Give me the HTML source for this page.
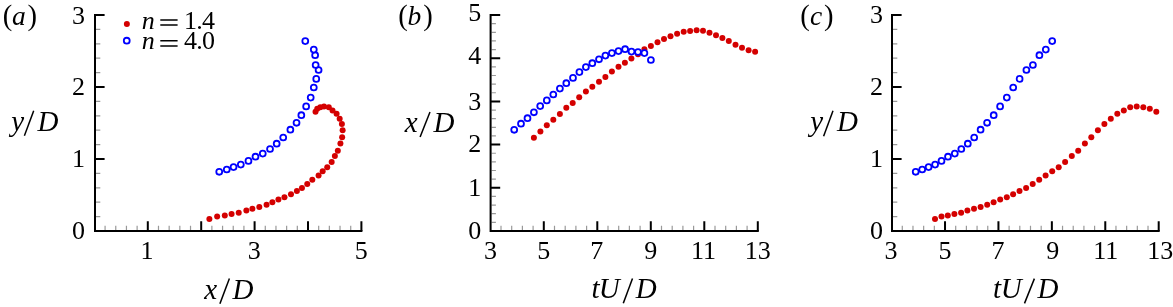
<!DOCTYPE html>
<html><head><meta charset="utf-8"><style>
html,body{margin:0;padding:0;background:#fff;overflow:hidden;}
svg{display:block;will-change:transform;}
text{font-family:"Liberation Serif",serif;fill:#000;}
</style></head><body>
<svg width="1173" height="307" viewBox="0 0 1173 307">
<rect width="1173" height="307" fill="#fff"/>
<path d="M96.00 216.60H100.30M96.00 202.20H100.30M96.00 187.80H100.30M96.00 173.40H100.30M96.00 144.60H100.30M96.00 130.20H100.30M96.00 115.80H100.30M96.00 101.40H100.30M96.00 72.60H100.30M96.00 58.20H100.30M96.00 43.80H100.30M96.00 29.40H100.30M105.08 230.00V225.70M115.76 230.00V225.70M126.44 230.00V225.70M137.12 230.00V225.70M158.48 230.00V225.70M169.16 230.00V225.70M179.84 230.00V225.70M190.52 230.00V225.70M211.88 230.00V225.70M222.56 230.00V225.70M233.24 230.00V225.70M243.92 230.00V225.70M265.28 230.00V225.70M275.96 230.00V225.70M286.64 230.00V225.70M297.32 230.00V225.70M318.68 230.00V225.70M329.36 230.00V225.70M340.04 230.00V225.70M350.72 230.00V225.70" stroke="#000" stroke-width="1.2" stroke-opacity="0.4" fill="none"/>
<path d="M95.00 159.00H104.60M95.00 87.00H104.60M95.00 15.00H104.60M147.80 231.00V221.20M201.20 231.00V221.20M254.60 231.00V221.20M308.00 231.00V221.20M361.40 231.00V221.20" stroke="#000" stroke-width="2" fill="none"/>
<path d="M95.00 14.00V231.00H362.40" stroke="#000" stroke-width="2" fill="none"/>
<path d="M491.60 222.36H495.90M491.60 213.72H495.90M491.60 205.08H495.90M491.60 196.44H495.90M491.60 179.16H495.90M491.60 170.52H495.90M491.60 161.88H495.90M491.60 153.24H495.90M491.60 135.96H495.90M491.60 127.32H495.90M491.60 118.68H495.90M491.60 110.04H495.90M491.60 92.76H495.90M491.60 84.12H495.90M491.60 75.48H495.90M491.60 66.84H495.90M491.60 49.56H495.90M491.60 40.92H495.90M491.60 32.28H495.90M491.60 23.64H495.90M501.00 230.00V225.70M511.70 230.00V225.70M522.40 230.00V225.70M533.10 230.00V225.70M554.50 230.00V225.70M565.20 230.00V225.70M575.90 230.00V225.70M586.60 230.00V225.70M608.00 230.00V225.70M618.70 230.00V225.70M629.40 230.00V225.70M640.10 230.00V225.70M661.50 230.00V225.70M672.20 230.00V225.70M682.90 230.00V225.70M693.60 230.00V225.70M715.00 230.00V225.70M725.70 230.00V225.70M736.40 230.00V225.70M747.10 230.00V225.70" stroke="#000" stroke-width="1.2" stroke-opacity="0.4" fill="none"/>
<path d="M490.60 187.80H500.20M490.60 144.60H500.20M490.60 101.40H500.20M490.60 58.20H500.20M490.60 15.00H500.20M543.80 231.00V221.20M597.30 231.00V221.20M650.80 231.00V221.20M704.30 231.00V221.20M757.80 231.00V221.20" stroke="#000" stroke-width="2" fill="none"/>
<path d="M490.60 14.00V231.00H758.80" stroke="#000" stroke-width="2" fill="none"/>
<path d="M893.00 216.60H897.30M893.00 202.20H897.30M893.00 187.80H897.30M893.00 173.40H897.30M893.00 144.60H897.30M893.00 130.20H897.30M893.00 115.80H897.30M893.00 101.40H897.30M893.00 72.60H897.30M893.00 58.20H897.30M893.00 43.80H897.30M893.00 29.40H897.30M902.28 230.00V225.70M912.97 230.00V225.70M923.65 230.00V225.70M934.34 230.00V225.70M955.70 230.00V225.70M966.39 230.00V225.70M977.07 230.00V225.70M987.76 230.00V225.70M1009.12 230.00V225.70M1019.81 230.00V225.70M1030.49 230.00V225.70M1041.18 230.00V225.70M1062.54 230.00V225.70M1073.23 230.00V225.70M1083.91 230.00V225.70M1094.60 230.00V225.70M1115.96 230.00V225.70M1126.65 230.00V225.70M1137.33 230.00V225.70M1148.02 230.00V225.70" stroke="#000" stroke-width="1.2" stroke-opacity="0.4" fill="none"/>
<path d="M892.00 159.00H901.60M892.00 87.00H901.60M892.00 15.00H901.60M945.02 231.00V221.20M998.44 231.00V221.20M1051.86 231.00V221.20M1105.28 231.00V221.20M1158.70 231.00V221.20" stroke="#000" stroke-width="2" fill="none"/>
<path d="M892.00 14.00V231.00H1159.70" stroke="#000" stroke-width="2" fill="none"/>
<g fill="#d40000"><circle cx="209.38" cy="219.00" r="3.0"/><circle cx="217.15" cy="216.60" r="3.0"/><circle cx="224.79" cy="215.60" r="3.0"/><circle cx="231.57" cy="214.10" r="3.0"/><circle cx="238.72" cy="212.80" r="3.0"/><circle cx="246.36" cy="210.60" r="3.0"/><circle cx="252.40" cy="208.70" r="3.0"/><circle cx="259.30" cy="207.00" r="3.0"/><circle cx="266.58" cy="204.80" r="3.0"/><circle cx="272.37" cy="202.30" r="3.0"/><circle cx="278.41" cy="199.40" r="3.0"/><circle cx="284.45" cy="197.20" r="3.0"/><circle cx="290.98" cy="194.30" r="3.0"/><circle cx="296.90" cy="191.10" r="3.0"/><circle cx="301.95" cy="188.00" r="3.0"/><circle cx="307.25" cy="184.00" r="3.0"/><circle cx="312.31" cy="179.70" r="3.0"/><circle cx="318.59" cy="175.40" r="3.0"/><circle cx="322.66" cy="171.30" r="3.0"/><circle cx="327.22" cy="167.20" r="3.0"/><circle cx="331.66" cy="162.10" r="3.0"/><circle cx="334.86" cy="156.00" r="3.0"/><circle cx="337.82" cy="150.70" r="3.0"/><circle cx="340.41" cy="143.50" r="3.0"/><circle cx="342.14" cy="137.20" r="3.0"/><circle cx="342.63" cy="130.20" r="3.0"/><circle cx="341.89" cy="123.90" r="3.0"/><circle cx="339.67" cy="118.80" r="3.0"/><circle cx="336.59" cy="113.80" r="3.0"/><circle cx="332.52" cy="110.50" r="3.0"/><circle cx="328.82" cy="107.30" r="3.0"/><circle cx="324.02" cy="106.40" r="3.0"/><circle cx="320.32" cy="107.30" r="3.0"/><circle cx="317.24" cy="108.70" r="3.0"/><circle cx="315.51" cy="111.70" r="3.0"/><circle cx="533.90" cy="137.80" r="3.0"/><circle cx="540.40" cy="131.50" r="3.0"/><circle cx="546.80" cy="125.30" r="3.0"/><circle cx="553.30" cy="119.80" r="3.0"/><circle cx="559.90" cy="114.00" r="3.0"/><circle cx="566.30" cy="107.80" r="3.0"/><circle cx="572.70" cy="102.90" r="3.0"/><circle cx="579.20" cy="97.30" r="3.0"/><circle cx="585.90" cy="91.40" r="3.0"/><circle cx="592.30" cy="86.70" r="3.0"/><circle cx="599.00" cy="81.80" r="3.0"/><circle cx="605.40" cy="76.90" r="3.0"/><circle cx="611.90" cy="71.60" r="3.0"/><circle cx="618.50" cy="66.80" r="3.0"/><circle cx="624.90" cy="62.70" r="3.0"/><circle cx="631.40" cy="58.40" r="3.0"/><circle cx="638.00" cy="54.30" r="3.0"/><circle cx="644.40" cy="49.20" r="3.0"/><circle cx="650.90" cy="45.90" r="3.0"/><circle cx="657.50" cy="42.20" r="3.0"/><circle cx="664.00" cy="38.96" r="3.0"/><circle cx="670.50" cy="36.36" r="3.0"/><circle cx="677.10" cy="33.78" r="3.0"/><circle cx="683.70" cy="31.86" r="3.0"/><circle cx="690.10" cy="31.00" r="3.0"/><circle cx="696.60" cy="30.24" r="3.0"/><circle cx="703.00" cy="30.84" r="3.0"/><circle cx="709.50" cy="32.64" r="3.0"/><circle cx="716.00" cy="35.14" r="3.0"/><circle cx="722.40" cy="37.90" r="3.0"/><circle cx="728.80" cy="40.90" r="3.0"/><circle cx="735.50" cy="44.80" r="3.0"/><circle cx="742.00" cy="47.80" r="3.0"/><circle cx="748.60" cy="50.30" r="3.0"/><circle cx="755.10" cy="51.70" r="3.0"/><circle cx="935.00" cy="219.00" r="3.0"/><circle cx="941.50" cy="216.60" r="3.0"/><circle cx="947.80" cy="215.60" r="3.0"/><circle cx="954.40" cy="214.10" r="3.0"/><circle cx="961.10" cy="212.80" r="3.0"/><circle cx="967.40" cy="210.60" r="3.0"/><circle cx="974.00" cy="208.70" r="3.0"/><circle cx="980.60" cy="207.00" r="3.0"/><circle cx="987.20" cy="204.80" r="3.0"/><circle cx="993.60" cy="202.30" r="3.0"/><circle cx="1000.20" cy="199.40" r="3.0"/><circle cx="1006.80" cy="197.20" r="3.0"/><circle cx="1013.10" cy="194.30" r="3.0"/><circle cx="1019.50" cy="191.10" r="3.0"/><circle cx="1026.10" cy="188.00" r="3.0"/><circle cx="1032.70" cy="184.00" r="3.0"/><circle cx="1039.20" cy="179.70" r="3.0"/><circle cx="1045.60" cy="175.40" r="3.0"/><circle cx="1052.20" cy="171.30" r="3.0"/><circle cx="1058.70" cy="167.20" r="3.0"/><circle cx="1065.10" cy="162.10" r="3.0"/><circle cx="1071.80" cy="156.00" r="3.0"/><circle cx="1078.20" cy="150.70" r="3.0"/><circle cx="1084.90" cy="143.50" r="3.0"/><circle cx="1091.30" cy="137.20" r="3.0"/><circle cx="1097.90" cy="130.20" r="3.0"/><circle cx="1104.40" cy="123.90" r="3.0"/><circle cx="1110.80" cy="118.80" r="3.0"/><circle cx="1117.30" cy="113.80" r="3.0"/><circle cx="1123.80" cy="110.50" r="3.0"/><circle cx="1130.20" cy="107.30" r="3.0"/><circle cx="1136.70" cy="106.40" r="3.0"/><circle cx="1143.30" cy="107.30" r="3.0"/><circle cx="1149.80" cy="108.70" r="3.0"/><circle cx="1156.30" cy="111.70" r="3.0"/></g>
<g fill="#fff" stroke="#0000ff" stroke-width="1.8"><circle cx="219.24" cy="171.80" r="2.95"/><circle cx="226.76" cy="169.50" r="2.95"/><circle cx="233.54" cy="167.10" r="2.95"/><circle cx="240.81" cy="164.60" r="2.95"/><circle cx="248.46" cy="160.90" r="2.95"/><circle cx="255.48" cy="156.70" r="2.95"/><circle cx="262.76" cy="153.60" r="2.95"/><circle cx="270.03" cy="149.00" r="2.95"/><circle cx="276.68" cy="143.70" r="2.95"/><circle cx="283.22" cy="137.50" r="2.95"/><circle cx="290.37" cy="129.70" r="2.95"/><circle cx="296.53" cy="122.80" r="2.95"/><circle cx="301.34" cy="115.20" r="2.95"/><circle cx="306.14" cy="106.40" r="2.95"/><circle cx="310.70" cy="97.60" r="2.95"/><circle cx="313.79" cy="87.50" r="2.95"/><circle cx="316.25" cy="78.90" r="2.95"/><circle cx="318.59" cy="70.00" r="2.95"/><circle cx="315.64" cy="65.00" r="2.95"/><circle cx="315.14" cy="55.20" r="2.95"/><circle cx="313.79" cy="49.60" r="2.95"/><circle cx="305.28" cy="41.10" r="2.95"/><circle cx="514.20" cy="129.80" r="2.95"/><circle cx="521.00" cy="123.70" r="2.95"/><circle cx="527.50" cy="118.20" r="2.95"/><circle cx="533.90" cy="112.30" r="2.95"/><circle cx="540.20" cy="106.10" r="2.95"/><circle cx="546.80" cy="100.40" r="2.95"/><circle cx="553.30" cy="94.50" r="2.95"/><circle cx="559.90" cy="88.60" r="2.95"/><circle cx="566.30" cy="83.20" r="2.95"/><circle cx="573.00" cy="77.90" r="2.95"/><circle cx="579.40" cy="72.10" r="2.95"/><circle cx="585.90" cy="67.10" r="2.95"/><circle cx="592.30" cy="63.20" r="2.95"/><circle cx="599.00" cy="59.30" r="2.95"/><circle cx="605.40" cy="55.60" r="2.95"/><circle cx="611.90" cy="53.10" r="2.95"/><circle cx="618.50" cy="51.10" r="2.95"/><circle cx="625.10" cy="49.20" r="2.95"/><circle cx="631.50" cy="51.60" r="2.95"/><circle cx="638.00" cy="52.00" r="2.95"/><circle cx="644.40" cy="53.10" r="2.95"/><circle cx="650.90" cy="60.00" r="2.95"/><circle cx="915.70" cy="171.80" r="2.95"/><circle cx="922.20" cy="169.50" r="2.95"/><circle cx="928.60" cy="167.10" r="2.95"/><circle cx="935.10" cy="164.60" r="2.95"/><circle cx="941.50" cy="160.90" r="2.95"/><circle cx="948.00" cy="156.70" r="2.95"/><circle cx="954.80" cy="153.60" r="2.95"/><circle cx="961.30" cy="149.00" r="2.95"/><circle cx="967.80" cy="143.70" r="2.95"/><circle cx="974.20" cy="137.50" r="2.95"/><circle cx="980.60" cy="129.70" r="2.95"/><circle cx="987.10" cy="122.80" r="2.95"/><circle cx="993.70" cy="115.20" r="2.95"/><circle cx="1000.10" cy="106.40" r="2.95"/><circle cx="1006.80" cy="97.60" r="2.95"/><circle cx="1013.20" cy="87.50" r="2.95"/><circle cx="1019.60" cy="78.90" r="2.95"/><circle cx="1026.40" cy="70.00" r="2.95"/><circle cx="1032.90" cy="65.00" r="2.95"/><circle cx="1039.40" cy="55.20" r="2.95"/><circle cx="1045.80" cy="49.60" r="2.95"/><circle cx="1052.20" cy="41.10" r="2.95"/></g>
<g>
<text x="84.90" y="239.10" font-size="26" text-anchor="end">0</text>
<text x="84.90" y="167.10" font-size="26" text-anchor="end">1</text>
<text x="84.90" y="94.90" font-size="26" text-anchor="end">2</text>
<text x="84.90" y="23.50" font-size="26" text-anchor="end">3</text>
<text x="481.20" y="238.90" font-size="26" text-anchor="end">0</text>
<text x="481.20" y="195.60" font-size="26" text-anchor="end">1</text>
<text x="481.20" y="152.30" font-size="26" text-anchor="end">2</text>
<text x="481.20" y="109.50" font-size="26" text-anchor="end">3</text>
<text x="481.20" y="64.30" font-size="26" text-anchor="end">4</text>
<text x="481.20" y="20.95" font-size="26" text-anchor="end">5</text>
<text x="883.10" y="239.00" font-size="26" text-anchor="end">0</text>
<text x="883.10" y="167.00" font-size="26" text-anchor="end">1</text>
<text x="883.10" y="94.90" font-size="26" text-anchor="end">2</text>
<text x="883.10" y="23.40" font-size="26" text-anchor="end">3</text>
<text x="140.59" y="258.80" font-size="26">1</text>
<text x="247.74" y="258.80" font-size="26">3</text>
<text x="354.65" y="258.80" font-size="26">5</text>
<text x="483.89" y="258.80" font-size="26">3</text>
<text x="537.35" y="258.80" font-size="26">5</text>
<text x="590.22" y="258.80" font-size="26">7</text>
<text x="644.21" y="258.80" font-size="26">9</text>
<text x="690.94" y="258.80" font-size="26">11</text>
<text x="744.67" y="258.80" font-size="26">13</text>
<text x="884.39" y="258.80" font-size="26">3</text>
<text x="938.45" y="258.80" font-size="26">5</text>
<text x="991.62" y="258.80" font-size="26">7</text>
<text x="1046.31" y="258.80" font-size="26">9</text>
<text x="1093.34" y="258.80" font-size="26">11</text>
<text x="1147.27" y="258.80" font-size="26">13</text>
<text x="204.25" y="298.60" font-size="29" font-style="italic">x</text><text x="232.52" y="298.60" font-size="29" font-style="italic">D</text><path d="M219.9 303.8L229.4 278.6" stroke="#000" stroke-width="1.5"/>
<text x="11.22" y="131.00" font-size="29" font-style="italic">y</text><text x="37.62" y="131.00" font-size="29" font-style="italic">D</text><path d="M24.4 135.8L33.7 110.8" stroke="#000" stroke-width="1.5"/>
<text x="404.75" y="131.60" font-size="29" font-style="italic">x</text><text x="433.42" y="131.60" font-size="29" font-style="italic">D</text><path d="M420.1 137.0L430.0 112.0" stroke="#000" stroke-width="1.5"/>
<text x="810.32" y="131.00" font-size="29" font-style="italic">y</text><text x="836.92" y="131.00" font-size="29" font-style="italic">D</text><path d="M823.6 136.2L833.0 110.8" stroke="#000" stroke-width="1.5"/>
<text x="591.43" y="298.40" font-size="29" font-style="italic">t</text><text x="598.64" y="298.40" font-size="29" font-style="italic">U</text><text x="635.82" y="298.40" font-size="29" font-style="italic">D</text><path d="M623.3 303.3L632.5 278.5" stroke="#000" stroke-width="1.5"/>
<text x="992.93" y="298.40" font-size="29" font-style="italic">t</text><text x="1000.64" y="298.40" font-size="29" font-style="italic">U</text><text x="1037.52" y="298.40" font-size="29" font-style="italic">D</text><path d="M1024.5 303.4L1034.4 278.6" stroke="#000" stroke-width="1.5"/>
<text x="2.64" y="24.87" font-size="28.6">(</text><text x="11.98" y="24.60" font-size="27.5" font-style="italic">a</text><text x="27.48" y="24.87" font-size="28.6">)</text>
<text x="398.14" y="25.17" font-size="28.6">(</text><text x="407.38" y="24.90" font-size="27.5" font-style="italic">b</text><text x="423.18" y="25.17" font-size="28.6">)</text>
<text x="800.29" y="24.97" font-size="28.6">(</text><text x="810.05" y="24.70" font-size="27.5" font-style="italic">c</text><text x="824.08" y="24.97" font-size="28.6">)</text>
<circle cx="126.85" cy="24.0" r="3.0" fill="#d40000"/>
<circle cx="126.75" cy="40.7" r="2.95" fill="#fff" stroke="#0000ff" stroke-width="1.8"/>
<text x="141.77" y="29.20" font-size="26" font-style="italic">n</text>
<path d="M160.3 20.0H177.6M160.3 25.0H177.6" stroke="#000" stroke-width="1.5"/>
<text letter-spacing="-0.75" x="184.00" y="29.20" font-size="26">1.4</text>
<text x="141.77" y="49.40" font-size="26" font-style="italic">n</text>
<path d="M160.3 40.85H177.6M160.3 45.9H177.6" stroke="#000" stroke-width="1.5"/>
<text letter-spacing="-0.75" x="184.00" y="49.40" font-size="26">4.0</text>
</g>
</svg>
</body></html>
